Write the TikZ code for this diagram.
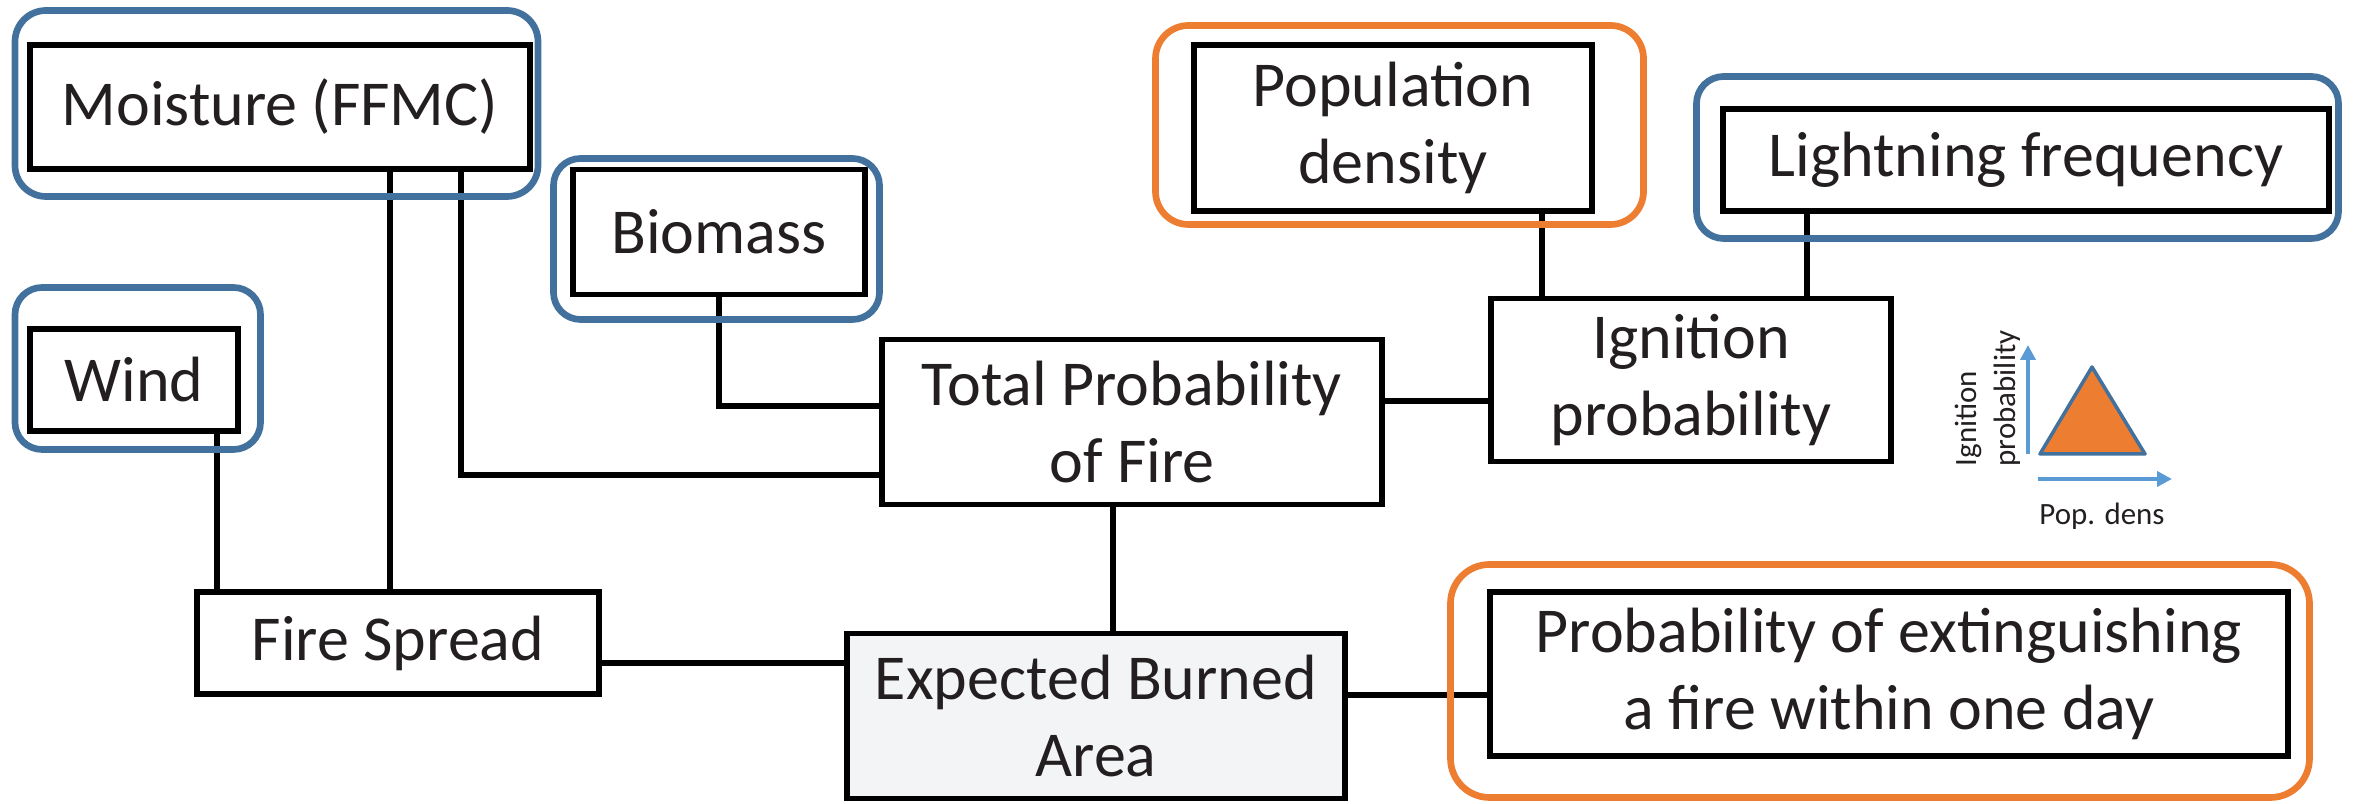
\documentclass[tikz,border=0pt]{standalone}
\usepackage{fontspec}
\setmainfont{Carlito}
\usetikzlibrary{arrows.meta}
\definecolor{frameblue}{HTML}{41719C}
\definecolor{frameorange}{HTML}{ED7D31}
\definecolor{axisblue}{HTML}{5B9BD5}
\definecolor{ebafill}{HTML}{F3F4F6}
\definecolor{inktext}{HTML}{231F20}
\begin{document}
\begin{tikzpicture}[x=0.01cm,y=-0.01cm,
  box/.style={draw=black, line width=1.6pt, fill=white, inner sep=0pt, outer sep=0pt,
    align=center, text=inktext, font=\fontsize{18.2}{21.9}\selectfont},
  link/.style={line width=1.5pt, black},
  blueframe/.style={draw=frameblue, line width=1.9pt},
  orangeframe/.style={draw=frameorange, line width=1.9pt},
  axis/.style={draw=axisblue, line width=1.1pt, -{Triangle[length=0.15cm,width=0.15cm]}},
  small/.style={text=inktext, inner sep=0pt, font=\fontsize{8.8}{11.2}\selectfont},
]
\useasboundingbox (0,0) rectangle (2356,804);

% factor boxes
\node[box, minimum width=5.00cm, minimum height=1.24cm] (moist) at (280,107) {Moisture (FFMC)};
\node[box, minimum width=2.92cm, minimum height=1.25cm] (bio)   at (719,232) {Biomass};
\node[box, minimum width=2.08cm, minimum height=1.02cm] (wind)  at (134,380) {Wind};
\node[box, minimum width=3.98cm, minimum height=1.66cm] (pop)   at (1393,128) {Population\\density};
\node[box, minimum width=6.06cm, minimum height=1.02cm] (light) at (2026,160) {Lightning frequency};
\node[box, minimum width=4.00cm, minimum height=1.63cm] (ign)   at (1691,380) {Ignition\\probability};
\node[box, minimum width=5.00cm, minimum height=1.65cm] (total) at (1132,422) {Total Probability\\of Fire};
\node[box, minimum width=4.02cm, minimum height=1.02cm] (fs)    at (398,643) {Fire Spread};
\node[box, fill=ebafill, minimum width=4.98cm, minimum height=1.65cm] (eba) at (1096,716) {Expected Burned\\Area};
\node[box, minimum width=7.98cm, minimum height=1.64cm] (pext)  at (1889,674) {Probability of extinguishing\\a fire within one day};

% guide positions for the elbow connectors
\coordinate (xw)  at (217,0);
\coordinate (xm1) at (390,0);
\coordinate (xm2) at (461,0);
\coordinate (xp)  at (1542,0);
\coordinate (xl)  at (1807,0);
\coordinate (xt)  at (1113,0);
\coordinate (ym)  at (0,475);
\coordinate (yb)  at (0,406);
\coordinate (yti) at (0,401);
\coordinate (yfe) at (0,663);
\coordinate (yep) at (0,695);

% connectors
\draw[link] (wind.south -| xw) -- (fs.north -| xw);
\draw[link] (moist.south -| xm1) -- (fs.north -| xm1);
\draw[link] (moist.south -| xm2) |- (total.west |- ym);
\draw[link] (bio.south) |- (total.west |- yb);
\draw[link] (total.east |- yti) -- (ign.west |- yti);
\draw[link] (pop.south -| xp) -- (ign.north -| xp);
\draw[link] (light.south -| xl) -- (ign.north -| xl);
\draw[link] (total.south -| xt) -- (eba.north -| xt);
\draw[link] (fs.east |- yfe) -- (eba.west |- yfe);
\draw[link] (eba.east |- yep) -- (pext.west |- yep);

% highlight frames
\draw[blueframe, rounded corners=0.31cm] (15,10.5) rectangle (538,196.5);
\draw[blueframe, rounded corners=0.27cm] (553.5,158.5) rectangle (879.5,319.5);
\draw[blueframe, rounded corners=0.27cm] (15,287.5) rectangle (260.5,449.5);
\draw[orangeframe, rounded corners=0.33cm] (1155.5,25.5) rectangle (1643.5,224.5);
\draw[blueframe, rounded corners=0.27cm] (1696.5,76.5) rectangle (2338.5,238.5);
\draw[orangeframe, rounded corners=0.39cm] (1450.5,564.5) rectangle (2309.5,797.5);

% inset: ignition probability versus population density
\coordinate (yaxS) at (2028,454);
\coordinate (yaxE) at (2028,345);
\coordinate (xaxS) at (2038,479);
\coordinate (xaxE) at (2172,479);
\draw[axis] (yaxS) -- (yaxE);
\draw[axis] (xaxS) -- (xaxE);
\filldraw[fill=frameorange, draw=frameblue, line width=1pt, line join=round]
  (2040,454) -- (2092,367) -- (2145,454) -- cycle;
\node[small, anchor=base] (popdens) at (2102,525) {Pop. dens};
\node[small, rotate=90, anchor=west, align=left] (iglabel) at (1988,467) {Ignition\\probability};
\end{tikzpicture}
\end{document}
